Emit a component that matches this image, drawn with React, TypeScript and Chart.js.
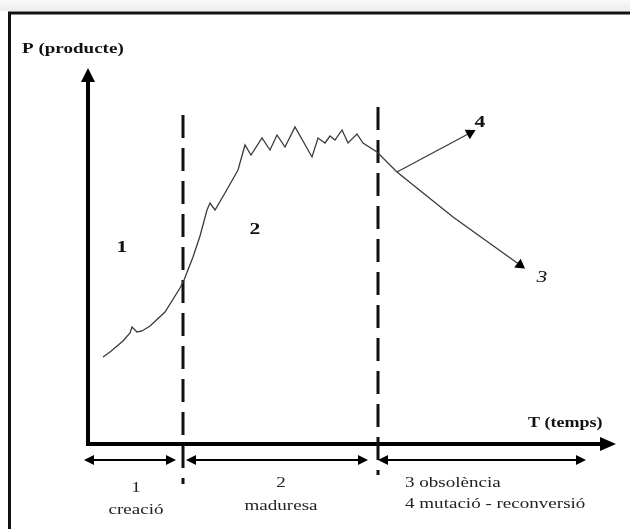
import React, { useEffect, useRef } from "react";
import { Chart, registerables } from "chart.js";

Chart.register(...registerables);

// Time units (arbitrary) and product units (arbitrary)
const curveT = [15, 22, 35, 42, 44, 49, 54, 62, 77, 92, 96, 105, 112, 119, 122, 127, 137, 150, 157, 163, 174, 182, 189, 197, 207, 224, 230, 237, 242, 247, 254, 260, 269, 275, 289, 309, 365, 432];
const curveP = [87, 92, 103, 111, 117, 112, 113, 118, 132, 156, 164, 187, 208, 234, 241, 234, 251, 274, 299, 289, 306, 294, 309, 297, 317, 287, 306, 301, 308, 304, 314, 301, 310, 301, 292, 272, 227, 179];
const branchT = [309, 382];
const branchP = [272, 311];

const axisMaxT = 528;
const axisMaxP = 376;

const phaseBounds = [95, 290];
const phaseSpans: [number, number][] = [[0, 92], [102, 284], [294, 502]];
const phaseCaptions = [["1", "creació"], ["2", "maduresa"], ["3 obsolència", "4 mutació - reconversió"]];

const regionTexts = ["1", "2", "4", "3"];
const regionT = [34, 167, 392, 454];
const regionP = [199, 217, 324, 169];

const yAxisTitle = "P (producte)";
const xAxisTitle = "T (temps)";

const SERIF = '"Liberation Serif", "Times New Roman", serif';
const STRETCH = 1.27;

function triangle(ctx: CanvasRenderingContext2D, tipX: number, tipY: number, dirX: number, dirY: number, len: number, half: number) {
  const n = Math.hypot(dirX, dirY);
  const ux = dirX / n, uy = dirY / n;
  const bx = tipX - ux * len, by = tipY - uy * len;
  ctx.beginPath();
  ctx.moveTo(tipX, tipY);
  ctx.lineTo(bx - uy * half, by + ux * half);
  ctx.lineTo(bx + uy * half, by - ux * half);
  ctx.closePath();
  ctx.fill();
}

function text(ctx: CanvasRenderingContext2D, s: string, x: number, y: number, align: CanvasTextAlign, sx = STRETCH) {
  ctx.save();
  ctx.translate(x, y);
  ctx.scale(sx, 1);
  ctx.textAlign = align;
  ctx.fillText(s, 0, 0);
  ctx.restore();
}

const diagramPlugin = {
  id: "diagram",
  beforeDatasetsDraw(chart: any) {
    const ctx: CanvasRenderingContext2D = chart.ctx;
    const xs = chart.scales.x, ys = chart.scales.y;
    const ox = xs.getPixelForValue(0), oy = ys.getPixelForValue(0);
    const topY = ys.getPixelForValue(axisMaxP);
    const endX = xs.getPixelForValue(axisMaxT);
    ctx.save();
    // top grey strip and frame
    const g = ctx.createLinearGradient(0, 0, 0, 11);
    g.addColorStop(0, "#fafafa");
    g.addColorStop(1, "#ececec");
    ctx.fillStyle = g;
    ctx.fillRect(0, 0, chart.width, 11);
    ctx.strokeStyle = "#111";
    ctx.lineWidth = 3;
    ctx.beginPath();
    ctx.moveTo(9.5, chart.height + 5);
    ctx.lineTo(9.5, 13);
    ctx.lineTo(chart.width + 5, 13);
    ctx.stroke();

    // axes
    ctx.strokeStyle = "#000";
    ctx.fillStyle = "#000";
    ctx.lineWidth = 4;
    ctx.beginPath();
    ctx.moveTo(ox, oy);
    ctx.lineTo(ox, topY + 10);
    ctx.moveTo(ox - 2, oy);
    ctx.lineTo(endX - 10, oy);
    ctx.stroke();
    triangle(ctx, ox, topY, 0, -1, 14, 7);
    triangle(ctx, endX, oy, 1, 0, 16, 7);

    // dashed phase boundaries
    ctx.lineWidth = 3;
    ctx.strokeStyle = "#111";
    ctx.setLineDash([23, 10]);
    const tops = [115, 107];
    const bottoms = [484, 475];
    phaseBounds.forEach((b, i) => {
      const px = xs.getPixelForValue(b);
      ctx.beginPath();
      ctx.moveTo(px, tops[i]);
      ctx.lineTo(px, bottoms[i]);
      ctx.stroke();
    });
    ctx.setLineDash([]);

    // double arrows under the axis
    const ay = oy + 16;
    ctx.lineWidth = 2;
    ctx.strokeStyle = "#000";
    phaseSpans.forEach(([a, b]) => {
      const pa = xs.getPixelForValue(a) - 4, pb = xs.getPixelForValue(b) - 4;
      ctx.beginPath();
      ctx.moveTo(pa + 6, ay);
      ctx.lineTo(pb - 6, ay);
      ctx.stroke();
      triangle(ctx, pa, ay, -1, 0, 10, 5);
      triangle(ctx, pb, ay, 1, 0, 10, 5);
    });
    ctx.restore();
  },
  afterDatasetsDraw(chart: any) {
    const ctx: CanvasRenderingContext2D = chart.ctx;
    const xs = chart.scales.x, ys = chart.scales.y;
    const oy = ys.getPixelForValue(0);
    ctx.save();
    ctx.fillStyle = "#111";
    ctx.textBaseline = "alphabetic";
    ctx.font = `bold 15px ${SERIF}`;
    text(ctx, yAxisTitle, 22, 53, "left");
    text(ctx, xAxisTitle, 528, 427, "left", 1.2);

    regionTexts.forEach((t, i) => {
      const px = xs.getPixelForValue(regionT[i]);
      const py = ys.getPixelForValue(regionP[i]);
      ctx.font = t === "3" ? `italic 17px ${SERIF}` : `bold 17px ${SERIF}`;
      text(ctx, t, px, py + 7, "center");
    });

    ctx.fillStyle = "#222";
    ctx.font = `15px ${SERIF}`;
    const cap0 = phaseCaptions[0], cap1 = phaseCaptions[1], cap2 = phaseCaptions[2];
    const c0 = (xs.getPixelForValue(phaseSpans[0][0]) + xs.getPixelForValue(phaseSpans[0][1])) / 2 + 2;
    text(ctx, cap0[0], c0, oy + 48, "center");
    text(ctx, cap0[1], c0, oy + 70, "center");
    const c1 = (xs.getPixelForValue(phaseSpans[1][0]) + xs.getPixelForValue(phaseSpans[1][1])) / 2;
    text(ctx, cap1[0], c1, oy + 43, "center");
    text(ctx, cap1[1], c1, oy + 66, "center");
    const l2 = xs.getPixelForValue(phaseSpans[2][0]) + 23;
    text(ctx, cap2[0], l2, oy + 43, "left");
    text(ctx, cap2[1], l2, oy + 64, "left");
    ctx.restore();
  },
};

export default function App() {
  const ref = useRef<HTMLCanvasElement | null>(null);
  useEffect(() => {
    if (!ref.current) return;
    const n = curveT.length;
    const chart = new Chart(ref.current, {
      type: "line",
      data: {
        datasets: [
          {
            data: curveT.map((t, i) => ({ x: t, y: curveP[i] })),
            borderColor: "#3a3a3a",
            borderWidth: 1.3,
            pointRadius: curveT.map((_, i) => (i === n - 1 ? 5 : 0)),
            pointStyle: "triangle",
            pointRotation: 126,
            pointBackgroundColor: "#000",
            pointBorderColor: "#000",
            tension: 0,
            clip: false as any,
          },
          {
            data: branchT.map((t, i) => ({ x: t, y: branchP[i] })),
            borderColor: "#3a3a3a",
            borderWidth: 1.3,
            pointRadius: [0, 5],
            pointStyle: "triangle",
            pointRotation: 62,
            pointBackgroundColor: "#000",
            pointBorderColor: "#000",
            tension: 0,
            clip: false as any,
          },
        ],
      },
      options: {
        responsive: false,
        animation: false,
        layout: { padding: { left: 88, right: 14, top: 68, bottom: 85 } },
        plugins: { legend: { display: false }, tooltip: { enabled: false } },
        scales: {
          x: { type: "linear", display: false, min: 0, max: axisMaxT },
          y: { type: "linear", display: false, min: 0, max: axisMaxP },
        },
      },
      plugins: [diagramPlugin],
    });
    return () => chart.destroy();
  }, []);
  return (
    <div style={{ position: "fixed", left: 0, top: 0, width: 630, height: 529, background: "#fff" }}>
      <canvas ref={ref} width={630} height={529} />
    </div>
  );
}
